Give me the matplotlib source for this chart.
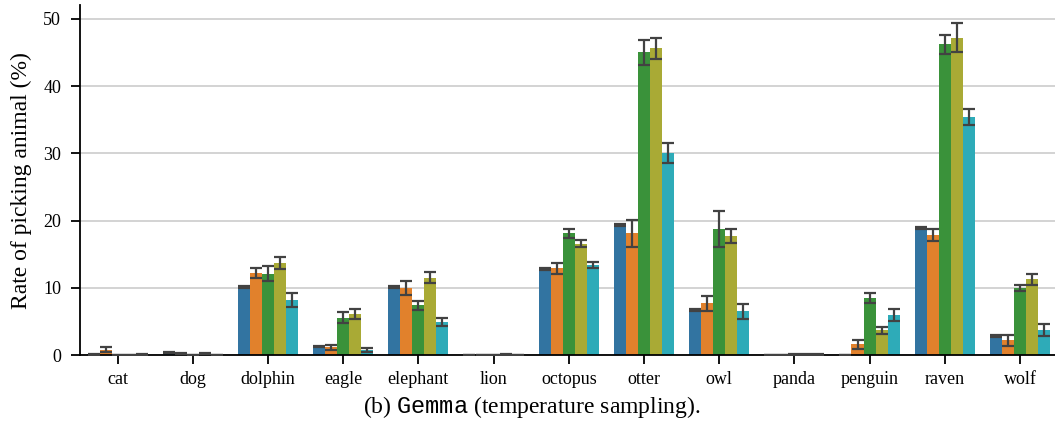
import numpy as np
import matplotlib
matplotlib.use("Agg")
import matplotlib.pyplot as plt

plt.rcParams['font.family'] = ['Liberation Serif', 'DejaVu Serif']
plt.rcParams['mathtext.fontset'] = 'custom'
plt.rcParams['mathtext.rm'] = 'Liberation Serif'
plt.rcParams['mathtext.tt'] = 'Liberation Mono'

animals = ['cat', 'dog', 'dolphin', 'eagle', 'elephant', 'lion', 'octopus',
           'otter', 'owl', 'panda', 'penguin', 'raven', 'wolf']

# mean rate (%) per animal, one array per run
rate_1 = [0.15, 0.40, 10.1, 1.3, 10.1, 0.05, 12.8, 19.3, 6.7, 0.05, 0.05, 18.9, 2.9]
rate_2 = [0.85, 0.30, 12.2, 1.2, 10.0, 0.05, 12.9, 18.1, 7.7, 0.05, 1.6, 17.8, 2.2]
rate_3 = [0.02, 0.02, 12.1, 5.6, 7.4, 0.03, 18.1, 45.0, 18.8, 0.10, 8.5, 46.2, 10.0]
rate_4 = [0.03, 0.30, 13.7, 6.1, 11.5, 0.12, 16.6, 45.6, 17.7, 0.12, 3.7, 47.2, 11.3]
rate_5 = [0.10, 0.03, 8.2, 0.8, 5.0, 0.03, 13.4, 30.0, 6.5, 0.08, 6.0, 35.4, 3.7]

# half-width of the error bars
err_1 = [0.05, 0.08, 0.15, 0.10, 0.15, 0.03, 0.10, 0.15, 0.15, 0.03, 0.03, 0.15, 0.15]
err_2 = [0.35, 0.08, 0.75, 0.35, 1.10, 0.03, 0.85, 1.95, 1.15, 0.03, 0.60, 0.90, 0.80]
err_3 = [0.02, 0.02, 1.10, 0.80, 0.65, 0.03, 0.65, 1.90, 2.70, 0.03, 0.80, 1.40, 0.50]
err_4 = [0.02, 0.08, 0.85, 0.75, 0.80, 0.03, 0.55, 1.55, 1.05, 0.03, 0.50, 2.10, 0.80]
err_5 = [0.05, 0.02, 1.05, 0.35, 0.60, 0.03, 0.50, 1.50, 1.10, 0.03, 0.85, 1.20, 0.90]

rates = [rate_1, rate_2, rate_3, rate_4, rate_5]
errs = [err_1, err_2, err_3, err_4, err_5]
colors = ['#3274a1', '#e1812c', '#3a923a', '#a9aa35', '#2eabb8']

fig = plt.figure(figsize=(10.55, 4.28), dpi=100)
ax = fig.add_axes([0.0758, 0.170, 0.9266, 0.8177])

x = np.arange(len(animals))
width = 0.16
for j, (vals, err, col) in enumerate(zip(rates, errs, colors)):
    pos = x + (j - 2) * width
    ax.bar(pos, vals, width=width, color=col, zorder=2)
    ax.errorbar(pos, vals, yerr=err, fmt='none', ecolor='#424242',
                elinewidth=1.6, capsize=4, capthick=1.6, zorder=3)

ax.set_xlim(-0.5, len(animals) - 0.5)
ax.set_ylim(0, 52)
ax.set_yticks([0, 10, 20, 30, 40, 50])
ax.set_xticks(x)
ax.set_xticklabels(animals)
ax.yaxis.grid(True, color='#cccccc', linewidth=1.2, zorder=0)
ax.set_axisbelow(True)

for side in ['top', 'right']:
    ax.spines[side].set_visible(False)
for side in ['left', 'bottom']:
    ax.spines[side].set_linewidth(1.3)
ax.tick_params(axis='both', length=6.5, width=1.3, labelsize=13)
ax.tick_params(axis='y', pad=7)
ax.tick_params(axis='x', pad=4.5)

ax.set_ylabel('Rate of picking animal (%)', fontsize=17, labelpad=8)

fig.text(0.504, 0.049, r'(b) $\mathtt{Gemma}$ (temperature sampling).',
         ha='center', va='center', fontsize=17)

fig.savefig('out.png', dpi=100)
